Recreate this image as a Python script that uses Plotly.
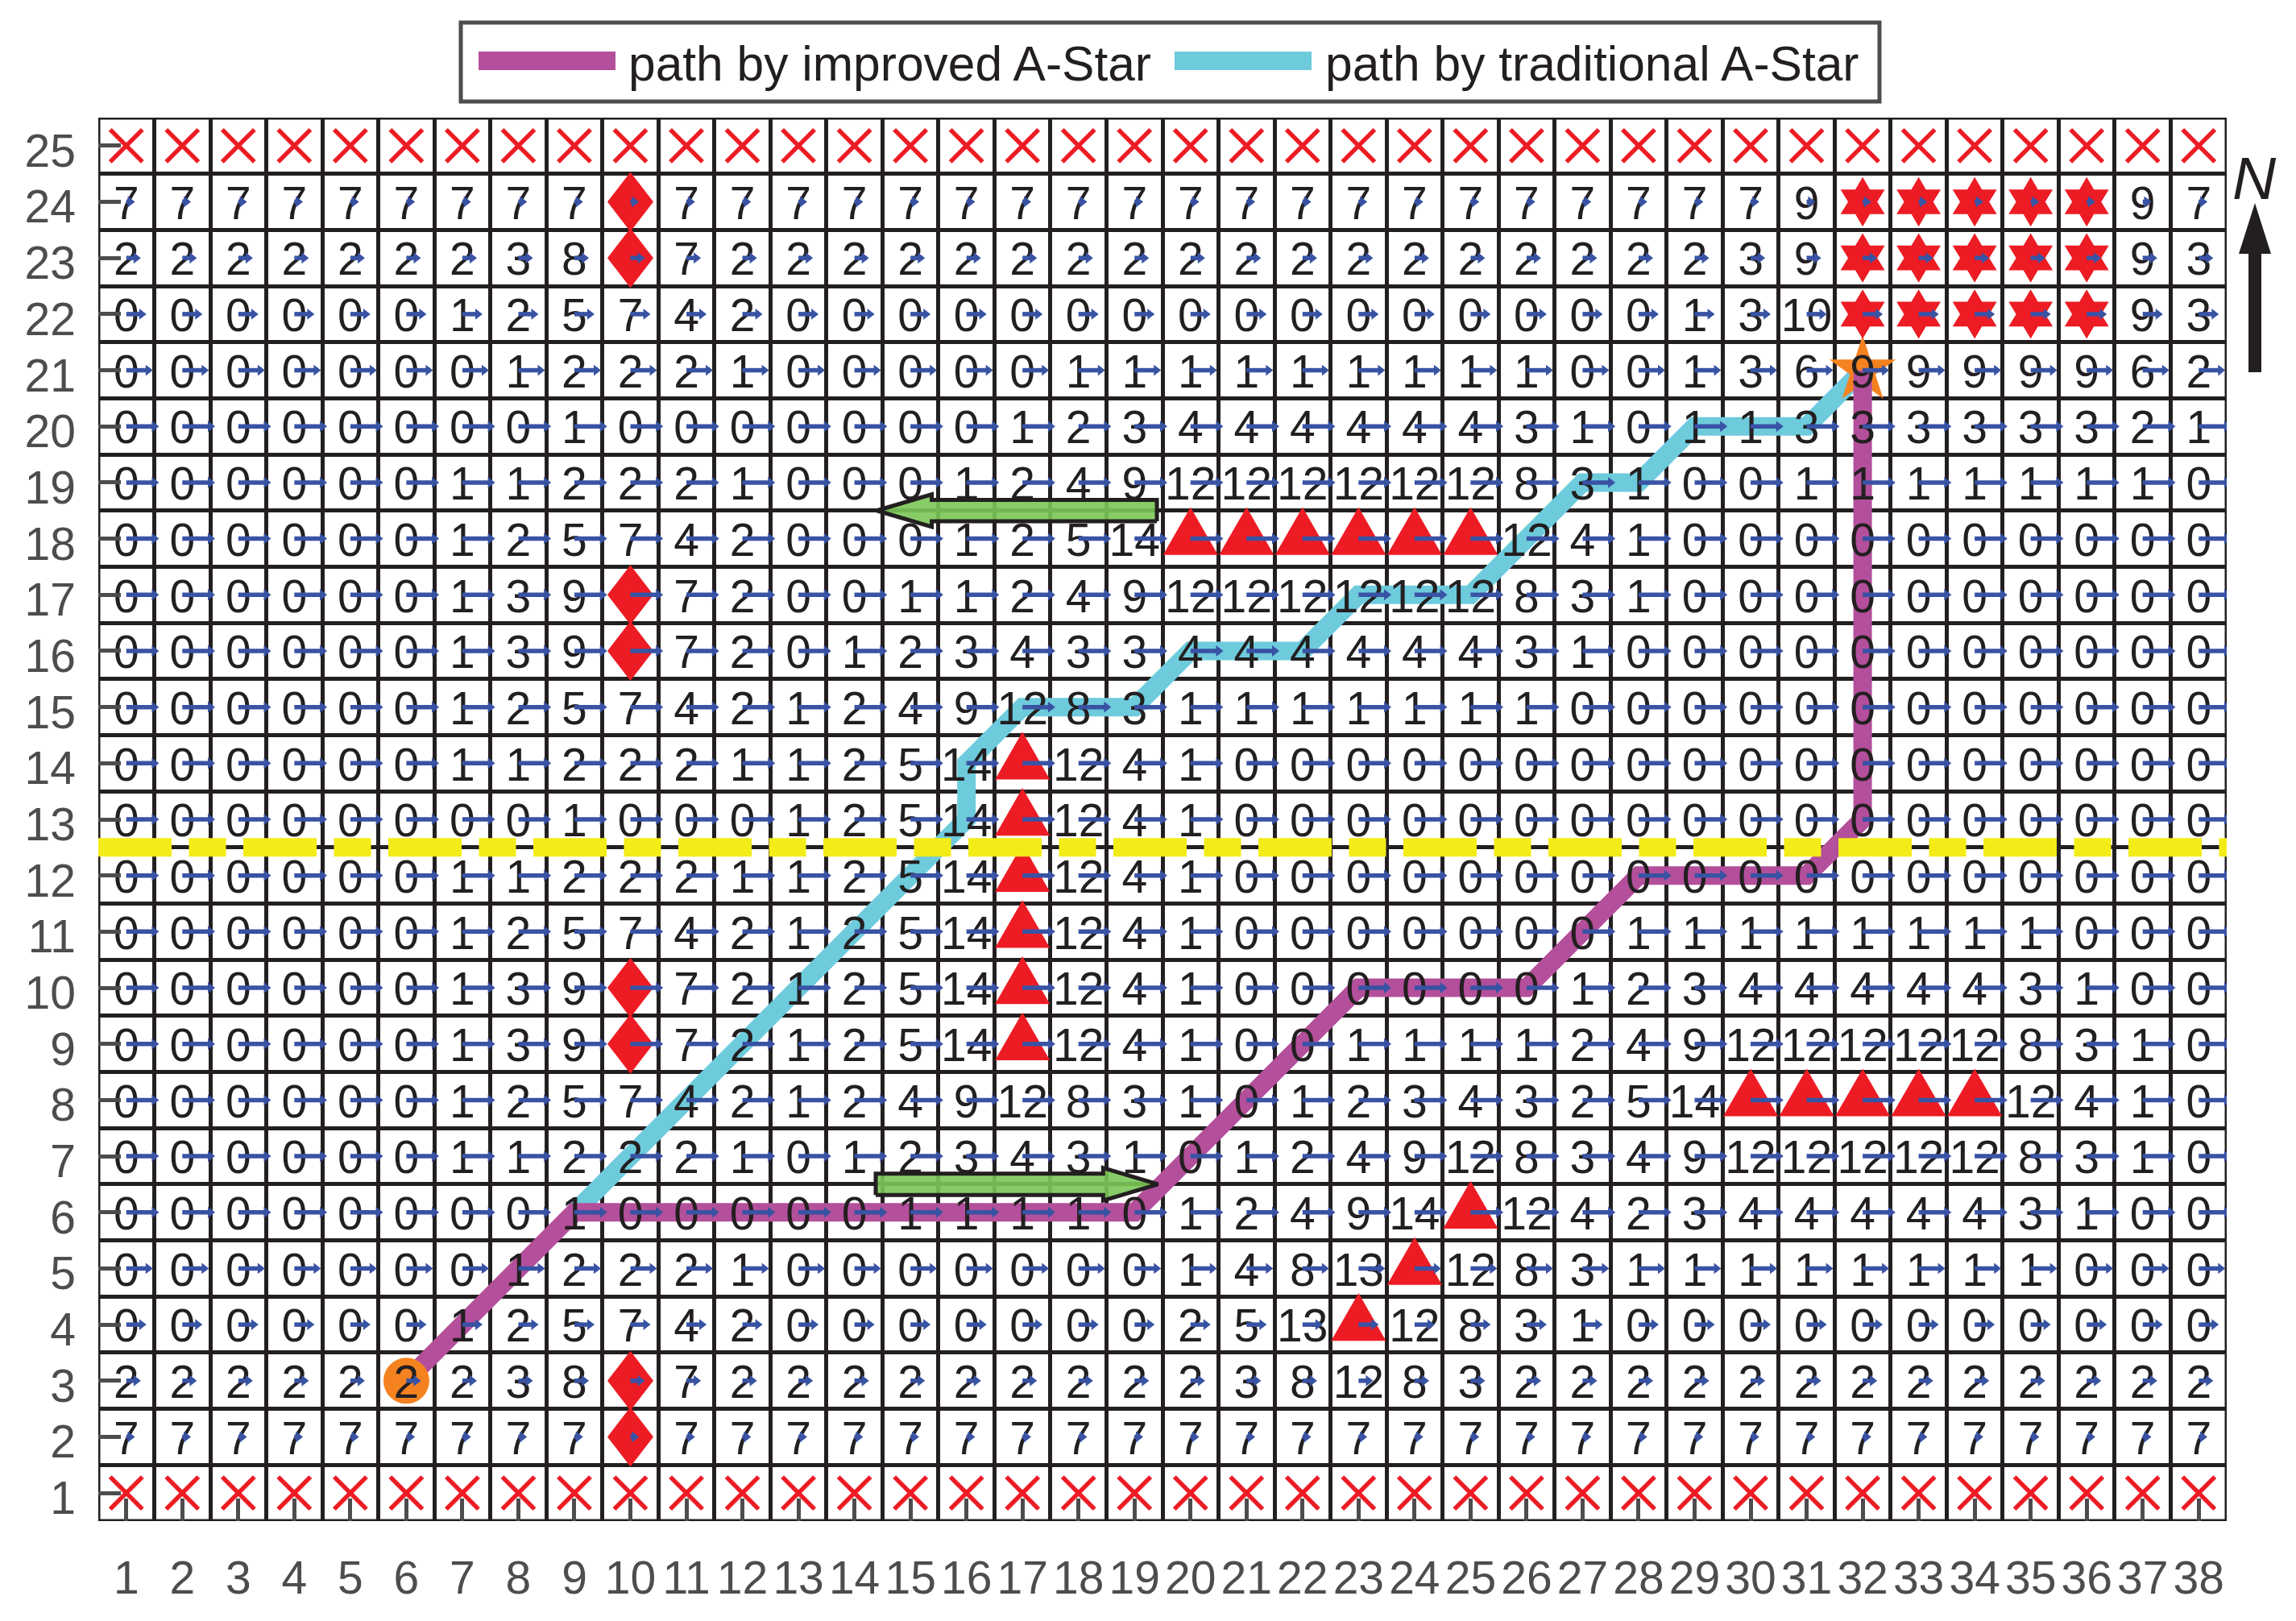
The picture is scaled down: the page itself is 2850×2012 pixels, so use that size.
import plotly.graph_objects as go

WIDTH = 2850
HEIGHT = 2012
BODY_MARGIN = 8  # the page body offsets the figure by this much

# frame of the grid in page pixels
FRAME_LEFT = 122
FRAME_RIGHT = 2764
FRAME_TOP = 146
FRAME_BOTTOM = 1888

INK = "#231f20"
GREY = "#4d4d4f"
RED = "#ed1c24"
BLUE = "#3953a4"
ORANGE = "#f58220"
PURPLE = "#b34f9b"
CYAN = "#6dcbdc"
YELLOW = "#f3ec19"
FONT = "Liberation Sans"

x_ticks = list(range(1, 39))
y_ticks = list(range(1, 26))

# cell labels, row 2 to row 24, column 1 to 38; None where an obstacle sits
row_02 = [7] * 9 + [None] + [7] * 28
row_03 = [2, 2, 2, 2, 2, 2, 2, 3, 8, None, 7, 2, 2, 2, 2, 2, 2, 2, 2, 2, 3, 8, 12, 8, 3, 2, 2, 2, 2, 2, 2, 2, 2, 2, 2, 2, 2, 2]
row_04 = [0, 0, 0, 0, 0, 0, 1, 2, 5, 7, 4, 2, 0, 0, 0, 0, 0, 0, 0, 2, 5, 13, None, 12, 8, 3, 1, 0, 0, 0, 0, 0, 0, 0, 0, 0, 0, 0]
row_05 = [0, 0, 0, 0, 0, 0, 0, 1, 2, 2, 2, 1, 0, 0, 0, 0, 0, 0, 0, 1, 4, 8, 13, None, 12, 8, 3, 1, 1, 1, 1, 1, 1, 1, 1, 0, 0, 0]
row_06 = [0, 0, 0, 0, 0, 0, 0, 0, 1, 0, 0, 0, 0, 0, 1, 1, 1, 1, 0, 1, 2, 4, 9, 14, None, 12, 4, 2, 3, 4, 4, 4, 4, 4, 3, 1, 0, 0]
row_07 = [0, 0, 0, 0, 0, 0, 1, 1, 2, 2, 2, 1, 0, 1, 2, 3, 4, 3, 1, 0, 1, 2, 4, 9, 12, 8, 3, 4, 9, 12, 12, 12, 12, 12, 8, 3, 1, 0]
row_08 = [0, 0, 0, 0, 0, 0, 1, 2, 5, 7, 4, 2, 1, 2, 4, 9, 12, 8, 3, 1, 0, 1, 2, 3, 4, 3, 2, 5, 14, None, None, None, None, None, 12, 4, 1, 0]
row_09 = [0, 0, 0, 0, 0, 0, 1, 3, 9, None, 7, 2, 1, 2, 5, 14, None, 12, 4, 1, 0, 0, 1, 1, 1, 1, 2, 4, 9, 12, 12, 12, 12, 12, 8, 3, 1, 0]
row_10 = [0, 0, 0, 0, 0, 0, 1, 3, 9, None, 7, 2, 1, 2, 5, 14, None, 12, 4, 1, 0, 0, 0, 0, 0, 0, 1, 2, 3, 4, 4, 4, 4, 4, 3, 1, 0, 0]
row_11 = [0, 0, 0, 0, 0, 0, 1, 2, 5, 7, 4, 2, 1, 2, 5, 14, None, 12, 4, 1, 0, 0, 0, 0, 0, 0, 0, 1, 1, 1, 1, 1, 1, 1, 1, 0, 0, 0]
row_12 = [0, 0, 0, 0, 0, 0, 1, 1, 2, 2, 2, 1, 1, 2, 5, 14, None, 12, 4, 1] + [0] * 18
row_13 = [0, 0, 0, 0, 0, 0, 0, 0, 1, 0, 0, 0, 1, 2, 5, 14, None, 12, 4, 1] + [0] * 18
row_14 = [0, 0, 0, 0, 0, 0, 1, 1, 2, 2, 2, 1, 1, 2, 5, 14, None, 12, 4, 1] + [0] * 18
row_15 = [0, 0, 0, 0, 0, 0, 1, 2, 5, 7, 4, 2, 1, 2, 4, 9, 12, 8, 3, 1, 1, 1, 1, 1, 1, 1] + [0] * 12
row_16 = [0, 0, 0, 0, 0, 0, 1, 3, 9, None, 7, 2, 0, 1, 2, 3, 4, 3, 3, 4, 4, 4, 4, 4, 4, 3, 1] + [0] * 11
row_17 = [0, 0, 0, 0, 0, 0, 1, 3, 9, None, 7, 2, 0, 0, 1, 1, 2, 4, 9, 12, 12, 12, 12, 12, 12, 8, 3, 1] + [0] * 10
row_18 = [0, 0, 0, 0, 0, 0, 1, 2, 5, 7, 4, 2, 0, 0, 0, 1, 2, 5, 14, None, None, None, None, None, None, 12, 4, 1] + [0] * 10
row_19 = [0, 0, 0, 0, 0, 0, 1, 1, 2, 2, 2, 1, 0, 0, 0, 1, 2, 4, 9, 12, 12, 12, 12, 12, 12, 8, 3, 1, 0, 0, 1, 1, 1, 1, 1, 1, 1, 0]
row_20 = [0, 0, 0, 0, 0, 0, 0, 0, 1, 0, 0, 0, 0, 0, 0, 0, 1, 2, 3, 4, 4, 4, 4, 4, 4, 3, 1, 0, 1, 1, 3, 3, 3, 3, 3, 3, 2, 1]
row_21 = [0, 0, 0, 0, 0, 0, 0, 1, 2, 2, 2, 1, 0, 0, 0, 0, 0, 1, 1, 1, 1, 1, 1, 1, 1, 1, 0, 0, 1, 3, 6, 9, 9, 9, 9, 9, 6, 2]
row_22 = [0, 0, 0, 0, 0, 0, 1, 2, 5, 7, 4, 2] + [0] * 16 + [1, 3, 10, None, None, None, None, None, 9, 3]
row_23 = [2, 2, 2, 2, 2, 2, 2, 3, 8, None, 7] + [2] * 18 + [3, 9, None, None, None, None, None, 9, 3]
row_24 = [7] * 9 + [None] + [7] * 20 + [9, None, None, None, None, None, 9, 7]

label_rows = [
    row_02, row_03, row_04, row_05, row_06, row_07, row_08, row_09, row_10, row_11, row_12, row_13,
    row_14, row_15, row_16, row_17, row_18, row_19, row_20, row_21, row_22, row_23, row_24,
]

# eastward arrow length per row, in cells (row 1 to 25)
wind_u = [0, 0.155, 0.26, 0.36, 0.475] + [0.585] * 15 + [0.475, 0.36, 0.26, 0.155, 0]

# obstacles as (column, row)
forbidden_cols = x_ticks
forbidden_rows = [1, 25]
diamond_cells = [(10, r) for r in (2, 3, 9, 10, 16, 17, 23, 24)]
triangle_cells = (
    [(17, r) for r in range(9, 15)]
    + [(c, 18) for c in range(20, 26)]
    + [(c, 8) for c in range(30, 35)]
    + [(23, 4), (24, 5), (25, 6)]
)
hexagram_cells = [(c, r) for c in range(32, 37) for r in (22, 23, 24)]

start_cell = (6, 3)
goal_cell = (32, 21)

improved_x = [6, 9, 19, 23, 26, 28, 31, 32, 32]
improved_y = [3, 6, 6, 10, 10, 12, 12, 13, 21]
traditional_x = [9, 16, 16, 17, 19, 20, 22, 23, 25, 27, 28, 29, 31, 32]
traditional_y = [6, 13, 14, 15, 15, 16, 16, 17, 17, 19, 19, 20, 20, 21]

channel_y = 12.5
# (tail, tip, row line)
green_arrows = [(19.4, 14.4, 18.5), (14.38, 19.42, 6.5)]

TEXT_DROP = 0.1  # digits sit a little under the cell centre


def outline(cells, offsets):
    xs, ys = [], []
    for c, r in cells:
        for dx, dy in offsets:
            xs.append(c + dx)
            ys.append(r + dy)
        xs.append(None)
        ys.append(None)
    return xs, ys


def big_arrow(tail, tip, y):
    sign = 1 if tip > tail else -1
    neck = tip - sign * 0.98
    return (
        [tail, neck, neck, tip, neck, neck, tail, tail],
        [y - 0.19, y - 0.19, y - 0.29, y, y + 0.29, y + 0.19, y + 0.19, y - 0.19],
    )


def page_x(px):
    return (px - FRAME_LEFT) / (FRAME_RIGHT - FRAME_LEFT)


def page_y(px):
    return (FRAME_BOTTOM - px) / (FRAME_BOTTOM - FRAME_TOP)


fig = go.Figure()

# white backing of the cell labels, hides the long inner ticks
back_x, back_y, text_x, text_y, text_s = [], [], [], [], []
for r, labels in zip(y_ticks[1:-1], label_rows):
    for c, v in zip(x_ticks, labels):
        back_x.append(c)
        back_y.append(r)
        if v is not None:
            text_x.append(c)
            text_y.append(r - TEXT_DROP)
            text_s.append(str(v))
fig.add_trace(go.Scatter(x=back_x, y=back_y, mode="markers",
                         marker={"symbol": "square", "size": 41, "color": "white"}))

fig.add_trace(go.Scatter(x=traditional_x, y=traditional_y, mode="lines",
                         line={"color": CYAN, "width": 23}))
fig.add_trace(go.Scatter(x=[goal_cell[0]], y=[goal_cell[1]], mode="markers",
                         marker={"symbol": "star", "size": 62, "color": ORANGE}))
fig.add_trace(go.Scatter(x=improved_x, y=improved_y, mode="lines",
                         line={"color": PURPLE, "width": 23}))
fig.add_trace(go.Scatter(x=[start_cell[0]], y=[start_cell[1]], mode="markers",
                         marker={"symbol": "circle", "size": 57, "color": ORANGE}))

fig.add_trace(go.Scatter(x=text_x, y=text_y, text=text_s, mode="text", textposition="middle center",
                         textfont={"family": FONT, "size": 57, "color": INK}))

cross_x = [c for r in forbidden_rows for c in forbidden_cols]
cross_y = [r for r in forbidden_rows for c in forbidden_cols]
fig.add_trace(go.Scatter(x=cross_x, y=cross_y, mode="markers",
                         marker={"symbol": "x-thin", "size": 40,
                                 "line": {"color": RED, "width": 5.5}}))

obstacle_shapes = [
    (diamond_cells, [(-0.41, 0), (0, 0.53), (0.41, 0), (0, -0.53), (-0.41, 0)]),
    (triangle_cells, [(-0.49, -0.29), (0.49, -0.29), (0, 0.56), (-0.49, -0.29)]),
    (hexagram_cells, [(0, 0.44), (0.13, 0.22), (0.395, 0.22), (0.26, 0), (0.395, -0.22), (0.13, -0.22),
                      (0, -0.44), (-0.13, -0.22), (-0.395, -0.22), (-0.26, 0), (-0.395, 0.22),
                      (-0.13, 0.22), (0, 0.44)]),
]
for cells, offsets in obstacle_shapes:
    xs, ys = outline(cells, offsets)
    fig.add_trace(go.Scatter(x=xs, y=ys, mode="lines", fill="toself", fillcolor=RED, line={"width": 0}))

# wind arrows
shaft_x, shaft_y, head_x, head_y = [], [], [], []
for r, u in zip(y_ticks, wind_u):
    if u == 0:
        continue
    for c in x_ticks:
        shaft_x += [c, c + u - 0.06, None]
        shaft_y += [r, r, None]
        head_x.append(c + u - 0.086)
        head_y.append(r)
fig.add_trace(go.Scatter(x=shaft_x, y=shaft_y, mode="lines", line={"color": BLUE, "width": 5.5}))
fig.add_trace(go.Scatter(x=head_x, y=head_y, mode="markers",
                         marker={"symbol": "triangle-right", "size": 12, "color": BLUE}))

for tail, tip, y in green_arrows:
    xs, ys = big_arrow(tail, tip, y)
    fig.add_trace(go.Scatter(x=xs, y=ys, mode="lines", fill="toself",
                             fillcolor="rgba(122,198,86,0.9)", line={"color": INK, "width": 5}))

fig.add_trace(go.Scatter(x=[x_ticks[0] - 0.5, x_ticks[-1] + 0.5], y=[channel_y, channel_y], mode="lines",
                         line={"color": YELLOW, "width": 23, "dash": "91px,21.5px,46px,21.5px"}))

# legend box and north arrow are drawn by hand, plotly caps legend line widths
shapes = [
    {"type": "rect", "xref": "x", "yref": "y", "x0": 0.5, "x1": 38.5, "y0": 0.5, "y1": 25.5,
     "line": {"color": INK, "width": 5}, "layer": "below"},
    {"type": "rect", "xref": "paper", "yref": "paper", "x0": page_x(572), "x1": page_x(2333),
     "y0": page_y(28), "y1": page_y(126), "line": {"color": GREY, "width": 5}, "fillcolor": "white"},
    {"type": "rect", "xref": "paper", "yref": "paper", "x0": page_x(594), "x1": page_x(764),
     "y0": page_y(64), "y1": page_y(87), "line": {"width": 0}, "fillcolor": PURPLE},
    {"type": "rect", "xref": "paper", "yref": "paper", "x0": page_x(1458), "x1": page_x(1628),
     "y0": page_y(64), "y1": page_y(87), "line": {"width": 0}, "fillcolor": CYAN},
    {"type": "path", "xref": "paper", "yref": "paper", "fillcolor": INK, "line": {"width": 0},
     "path": "M {} {} L {} {} L {} {} L {} {} L {} {} L {} {} L {} {} Z".format(
         page_x(2799), page_y(252), page_x(2819), page_y(315), page_x(2807), page_y(315),
         page_x(2807), page_y(462), page_x(2791), page_y(462), page_x(2791), page_y(315),
         page_x(2779), page_y(315))},
]

annotations = [
    {"x": page_x(778), "y": page_y(79), "text": "path by improved A-Star"},
    {"x": page_x(1643), "y": page_y(79), "text": "path by traditional A-Star"},
]
for a in annotations:
    a.update({"xref": "paper", "yref": "paper", "xanchor": "left", "yanchor": "middle", "showarrow": False,
              "font": {"family": FONT, "size": 60.5, "color": INK}})
annotations.append({"x": page_x(2798), "y": page_y(221), "xref": "paper", "yref": "paper", "showarrow": False,
                    "xanchor": "center", "yanchor": "middle",
                    "text": "<i>N</i>", "font": {"family": FONT, "size": 75, "color": INK}})

axis_common = {
    "showline": False,
    "showgrid": False,
    "zeroline": False,
    "ticks": "inside",
    "tickcolor": GREY,
    "tickwidth": 4.5,
    "tickfont": {"family": FONT, "size": 57, "color": GREY},
    "minor": {"tick0": 0.5, "dtick": 1, "showgrid": True, "gridcolor": INK, "gridwidth": 4.5, "ticks": ""},
}

fig.update_layout(
    width=WIDTH - BODY_MARGIN,
    height=HEIGHT - BODY_MARGIN,
    margin={
        "l": FRAME_LEFT - BODY_MARGIN,
        "r": WIDTH - FRAME_RIGHT,
        "t": FRAME_TOP - BODY_MARGIN,
        "b": HEIGHT - FRAME_BOTTOM,
    },
    paper_bgcolor="white",
    plot_bgcolor="white",
    showlegend=False,
    shapes=shapes,
    annotations=annotations,
    xaxis={**axis_common, "range": [0.5, 38.5], "tickmode": "array", "tickvals": x_ticks, "ticklen": 28,
           "ticklabelstandoff": 32},
    yaxis={**axis_common, "range": [0.5, 25.5], "tickmode": "array", "tickvals": y_ticks, "ticklen": 28,
           "ticklabelstandoff": 27, "ticklabelshift": 6},
)

fig.write_html("out.html")
